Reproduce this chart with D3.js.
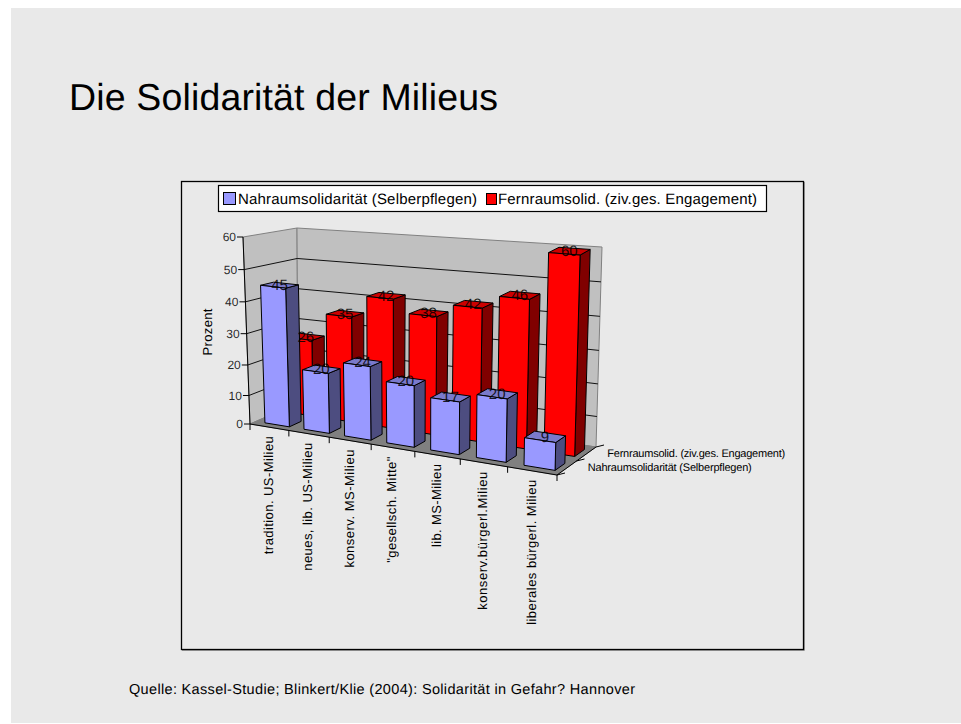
<!DOCTYPE html>
<html><head><meta charset="utf-8">
<script src="https://cdn.jsdelivr.net/npm/d3@7"></script>
<style>
html,body{margin:0;padding:0;background:#fff}
text{font-family:"Liberation Sans",Arial,sans-serif;fill:#000;text-rendering:geometricPrecision}
</style></head><body><svg id="c" width="961" height="724" style="display:block"></svg>
<script>
const categories=["tradition. US-Milieu","neues, lib. US-Milieu","konserv. MS-Milieu","\"gesellsch. Mitte\"","lib. MS-Milieu","konserv.bürgerl.Milieu","liberales bürgerl. Milieu"];
const seriesNames=["Nahraumsolidarität (Selberpflegen)","Fernraumsolid. (ziv.ges. Engagement)"];
const nahraum=[45,20,24,20,17,20,9];
const fernraum=[26,35,42,38,42,46,60];
const valueTicks=[0,10,20,30,40,50,60];
const categoryLabelLengths=[118,128,118,106,83,138,145];

const svg=d3.select("#c");
svg.append("rect").attr("x",11).attr("y",8).attr("width",950).attr("height",715).attr("fill","#e9e9e9");
svg.append("text").attr("x",69).attr("y",110).attr("font-size",37.5).attr("textLength",429).text("Die Solidarität der Milieus");
svg.append("path").attr("d","M804.5,182V650.5H182").attr("fill","none").attr("stroke","#a0a0a0");
svg.append("rect").attr("x",181.5).attr("y",181.5).attr("width",622).attr("height",468).attr("fill","#e9e9e9").attr("stroke","#000").attr("stroke-width",1.3);
svg.append("text").attr("x",129).attr("y",694).attr("font-size",14.5).attr("textLength",506)
  .text("Quelle: Kassel-Studie; Blinkert/Klie (2004): Solidarität in Gefahr? Hannover");

// cube corners on screen: [u 0|1][depth 0|1][value 0|1]
const C={"000":[250,424],"001":[243,237],"010":[298,403],"011":[297,228],
         "100":[557,475],"101":[562,270],"110":[596,447],"111":[602,247]};
const k=1.15, warp=u=>u/(u+k*(1-u));
function P(u,d,v){
  const w=warp(u), out=[0,0];
  for(const a of [0,1])for(const b of [0,1])for(const c of [0,1]){
    const f=(a?w:1-w)*(b?d:1-d)*(c?v:1-v), p=C[""+a+b+c];
    out[0]+=f*p[0]; out[1]+=f*p[1];
  }
  return out;
}
const x=d3.scaleBand().domain(categories).range([0,1]).paddingInner(.37).paddingOuter(.185);
const y=d3.scalePow().exponent(1.05).domain([0,60]).range([0,1]);
const z=d3.scaleBand().domain(seriesNames).range([0,1]).paddingInner(.5).paddingOuter(.25);
const barShift=.007;
const line=d3.line();
const poly=(g,pts,fill,stroke,sw)=>g.append("path").attr("d",line(pts)+"Z").attr("fill",fill).attr("stroke",stroke||"none").attr("stroke-width",sw||1).attr("stroke-linejoin","round");

// walls and floor
const walls=svg.append("g");
poly(walls,[P(0,0,0),P(0,1,0),P(0,1,1),P(0,0,1)],"#c0c0c0","#808080");
poly(walls,[P(0,1,0),P(1,1,0),P(1,1,1),P(0,1,1)],"#c0c0c0","#808080");
poly(walls,[P(0,0,0),P(1,0,0),P(1,1,0),P(0,1,0)],"#808080","#808080");
valueTicks.slice(1,-1).forEach(t=>{
  const v=y(t);
  walls.append("path").attr("d",line([P(0,0,v),P(0,1,v),P(1,1,v)])).attr("fill","none").attr("stroke","#111").attr("stroke-width",1);
});

// axes
const axes=svg.append("g").attr("stroke","#000").attr("fill","none");
axes.append("path").attr("d",line([P(0,0,1),P(0,0,0),P(1,0,0),P(1,1,0)]));
valueTicks.forEach(t=>{
  const p=P(0,0,y(t));
  axes.append("path").attr("d",line([[p[0]-6,p[1]],p]));
  svg.append("text").attr("x",p[0]-7).attr("y",p[1]+4).attr("text-anchor","end").attr("font-size",12).attr("fill-opacity",.85).text(t);
});
svg.append("text").attr("transform","translate(212,332) rotate(-90)").attr("text-anchor","middle").attr("font-size",13).attr("textLength",47).text("Prozent");
const catEdges=categories.map(c=>x(c)-x.step()*.185).concat([1]);
catEdges.forEach(u=>{
  const p=P(u,0,0);
  axes.append("path").attr("d",line([p,[p[0],p[1]+6]]));
});
categories.forEach((c,i)=>{
  const p=P(x(c)+x.bandwidth()/2,0,0);
  svg.append("text").attr("transform",`translate(${p[0]+3.5},${p[1]+9}) rotate(-90)`).attr("text-anchor","end")
    .attr("font-size",13).attr("textLength",categoryLabelLengths[i]).text(c);
});
[0,.5,1].forEach(d=>{
  const p=P(1,d,0);
  axes.append("path").attr("d",line([p,[p[0]+8,p[1]-2]]));
});
const sl1=P(1,.75,0), sl2=P(1,.25,0);
svg.append("text").attr("x",sl1[0]+21).attr("y",sl1[1]+3).attr("font-size",11).attr("textLength",178).text(seriesNames[1]);
svg.append("text").attr("x",sl2[0]+21).attr("y",sl2[1]+3).attr("font-size",11).attr("textLength",164).text(seriesNames[0]);

// bars
function bars(vals,name,front,side,top){
  const g=svg.append("g"), d0=z(name), d1=d0+z.bandwidth();
  const labels=[];
  vals.forEach((val,i)=>{
    const u0=x(categories[i])+barShift, u1=u0+x.bandwidth(), v=y(val);
    poly(g,[P(u1,d0,0),P(u1,d1,0),P(u1,d1,v),P(u1,d0,v)],side,"#000");
    poly(g,[P(u0,d0,v),P(u1,d0,v),P(u1,d1,v),P(u0,d1,v)],top,"#000");
    poly(g,[P(u0,d0,0),P(u1,d0,0),P(u1,d0,v),P(u0,d0,v)],front,"#000");
    labels.push({c:P((u0+u1)/2,(d0+d1)/2,v),val});
  });
  return labels;
}
const l2=bars(fernraum,seriesNames[1],"#ff0000","#800000","#cc0000");
const l1=bars(nahraum,seriesNames[0],"#9999ff","#4d4d80","#7a7acc");
[...l2,...l1].forEach(l=>svg.append("text").attr("x",l.c[0]).attr("y",l.c[1]+5).attr("text-anchor","middle").attr("font-size",15).attr("fill-opacity",.85).text(l.val));

// legend
const lg=svg.append("g");
lg.append("rect").attr("x",218.5).attr("y",185.5).attr("width",548).attr("height",26).attr("fill","#fff").attr("stroke","#000").attr("stroke-width",1.2);
lg.append("rect").attr("x",223.5).attr("y",192.5).attr("width",12).attr("height",12).attr("fill","#9999ff").attr("stroke","#000");
lg.append("text").attr("x",238).attr("y",204).attr("font-size",15).attr("textLength",239).text(seriesNames[0]);
lg.append("rect").attr("x",486.5).attr("y",193.5).attr("width",10).attr("height",11).attr("fill","#ff0000").attr("stroke","#000");
lg.append("text").attr("x",498).attr("y",204).attr("font-size",15).attr("textLength",259).text(seriesNames[1]);
</script></body></html>
